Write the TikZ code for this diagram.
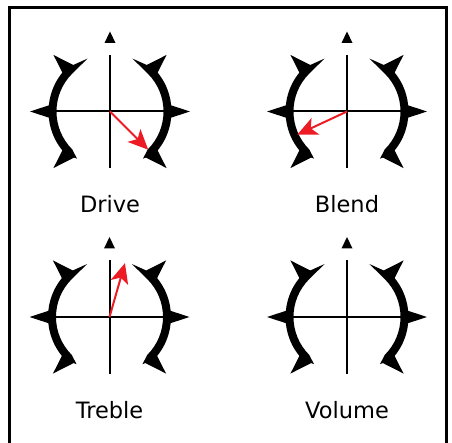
\documentclass[tikz,border=0pt]{standalone}
\usepackage{tikz}
\usepackage{xcolor}
\usepackage{fontspec}
\setmainfont{DejaVu Sans}
\usetikzlibrary{arrows.meta}
\definecolor{kblack}{HTML}{000000}
\definecolor{kred}{HTML}{ED1C24}
\tikzset{
	knob/.pic={
		\draw[color=kblack, line width=2pt] (-57,0) -- (57,0);
		\draw[color=kblack, line width=2pt] (0,-56.5) -- (0,56.5);
		\fill[color=kblack] (0,80) -- (-5.5,68.5) -- (5.5,68.5) -- cycle;
		\fill[color=kblack] (135:61.5) arc[start angle=135, end angle=225, radius=61.5pt] -- (235:57.5) -- (225:53.5) arc[start angle=225, end angle=135, radius=53.5pt] -- (113:57.5) -- cycle;
		\fill[color=kblack] (-45:61.5) arc[start angle=-45, end angle=45, radius=61.5pt] -- (67:57.5) -- (45:53.5) arc[start angle=45, end angle=-45, radius=53.5pt] -- (-55:57.5) -- cycle;
		\fill[color=kblack, rotate=135] (80,0) -- (57,7.5) -- (57,-7.5) -- cycle;
		\fill[color=kblack, rotate=180] (80,0) -- (57,7.5) -- (57,-7.5) -- cycle;
		\fill[color=kblack, rotate=225] (80,0) -- (57,7.5) -- (57,-7.5) -- cycle;
		\fill[color=kblack, rotate=45] (80,0) -- (57,7.5) -- (57,-7.5) -- cycle;
		\fill[color=kblack, rotate=0] (80,0) -- (57,7.5) -- (57,-7.5) -- cycle;
		\fill[color=kblack, rotate=-45] (80,0) -- (57,7.5) -- (57,-7.5) -- cycle;
	},
	pointer/.style={color=kred, line width=2pt, -{Stealth[length=20pt, width=18pt, inset=5pt]}},
	knoblabel/.style={anchor=base, font=\fontsize{22.5}{27}\selectfont}
}

\begin{document}
\begin{tikzpicture}[x=1pt, y=1pt]
		\useasboundingbox (0,0) rectangle (452,442);
		\draw[color=kblack, line width=2.5pt] (9.5,-5) -- (9.5,434.5) -- (446.5,434.5) -- (446.5,-5);
		\coordinate (D) at (110,330.5);
		\coordinate (B) at (347,330.5);
		\coordinate (T) at (109.5,125);
		\coordinate (V) at (347,125);
		\pic at (D) {knob};
		\pic at (B) {knob};
		\pic at (T) {knob};
		\pic at (V) {knob};
		\draw[pointer] (D) -- ++(-45:54);
		\draw[pointer] (B) -- ++(205:55);
		\draw[pointer] (T) -- ++(74:56);
		\node[knoblabel] (drive) at ([yshift=-101.5pt]D) {Drive};
		\node[knoblabel] (blend) at ([yshift=-101.5pt]B) {Blend};
		\node[knoblabel] (treble) at ([yshift=-101.5pt]T) {Treble};
		\node[knoblabel] (volume) at ([yshift=-101.5pt]V) {Volume};
	\end{tikzpicture}
\end{document}
